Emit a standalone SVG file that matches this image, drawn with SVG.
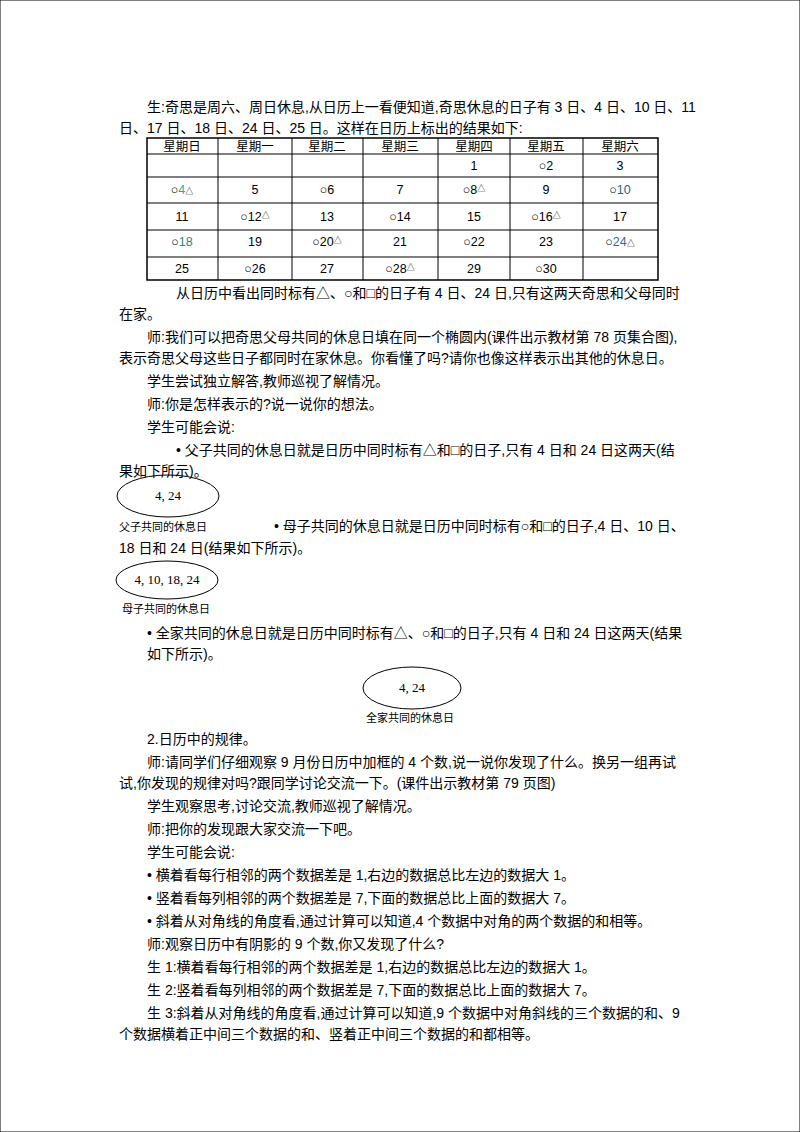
<svg xmlns="http://www.w3.org/2000/svg" width="800" height="1132" viewBox="0 0 800 1132">
<style>
text{font-family:"Liberation Sans","Noto Sans CJK SC",sans-serif;font-size:14px;fill:#000}
.c{text-anchor:middle;font-size:12.5px}
.s{font-family:"Noto Sans CJK SC",serif;font-size:11px}
.e{font-family:"Liberation Serif",serif;font-size:13px;text-anchor:middle}
line,rect,ellipse{stroke:#000;fill:none}
</style>
<rect width="800" height="1132" fill="#fff" stroke="none"/>
<text x="147" y="112">生:奇思是周六、周日休息,从日历上一看便知道,奇思休息的日子有 3 日、4 日、10 日、11</text>
<text x="119" y="133">日、17 日、18 日、24 日、25 日。这样在日历上标出的结果如下:</text>
<g id="table">
<rect x="147" y="138" width="511" height="142" stroke-width="1.5"/>
<g stroke-width="1">
<line x1="147" y1="154" x2="658" y2="154"/><line x1="147" y1="177" x2="658" y2="177"/><line x1="147" y1="203" x2="658" y2="203"/><line x1="147" y1="230" x2="658" y2="230"/><line x1="147" y1="257" x2="658" y2="257"/>
<line x1="218" y1="138" x2="218" y2="280"/><line x1="292" y1="138" x2="292" y2="280"/><line x1="363" y1="138" x2="363" y2="280"/><line x1="438" y1="138" x2="438" y2="280"/><line x1="510" y1="138" x2="510" y2="280"/><line x1="583" y1="138" x2="583" y2="280"/>
</g>
<g class="hd">
<text class="c" x="182" y="151">星期日</text><text class="c" x="255" y="151">星期一</text><text class="c" x="327" y="151">星期二</text><text class="c" x="400" y="151">星期三</text><text class="c" x="474" y="151">星期四</text><text class="c" x="546" y="151">星期五</text><text class="c" x="620" y="151">星期六</text>
</g>
<text class="c" x="474" y="170">1</text><text class="c" x="546" y="170">○2</text><text class="c" x="620" y="170" fill="#a07020">3</text>
<text class="c" x="182" y="194">○<tspan fill="#3a8">4</tspan><tspan font-size="8">△</tspan></text><text class="c" x="255" y="194">5</text><text class="c" x="327" y="194">○6</text><text class="c" x="400" y="194">7</text><text class="c" x="474" y="194">○8<tspan font-size="8" dy="-3">△</tspan></text><text class="c" x="546" y="194">9</text><text class="c" x="620" y="194">○<tspan fill="#268">10</tspan></text>
<text class="c" x="182" y="221" fill="#6a4">11</text><text class="c" x="255" y="221">○12<tspan font-size="8" dy="-3">△</tspan></text><text class="c" x="327" y="221">13</text><text class="c" x="400" y="221">○14</text><text class="c" x="474" y="221">15</text><text class="c" x="546" y="221">○16<tspan font-size="8" dy="-3">△</tspan></text><text class="c" x="620" y="221" fill="#584">17</text>
<text class="c" x="182" y="246">○<tspan fill="#288">18</tspan></text><text class="c" x="255" y="246">19</text><text class="c" x="327" y="246">○20<tspan font-size="8" dy="-3">△</tspan></text><text class="c" x="400" y="246">21</text><text class="c" x="474" y="246">○22</text><text class="c" x="546" y="246">23</text><text class="c" x="620" y="246">○<tspan fill="#468">24</tspan><tspan font-size="8">△</tspan></text>
<text class="c" x="182" y="273" fill="#684">25</text><text class="c" x="255" y="273">○26</text><text class="c" x="327" y="273">27</text><text class="c" x="400" y="273">○28<tspan font-size="8" dy="-3">△</tspan></text><text class="c" x="474" y="273">29</text><text class="c" x="546" y="273">○30</text>
</g>
<text x="176" y="298">从日历中看出同时标有△、○和□的日子有 4 日、24 日,只有这两天奇思和父母同时</text>
<text x="119" y="319">在家。</text>
<text x="147" y="342">师:我们可以把奇思父母共同的休息日填在同一个椭圆内(课件出示教材第 78 页集合图),</text>
<text x="119" y="363">表示奇思父母这些日子都同时在家休息。你看懂了吗?请你也像这样表示出其他的休息日。</text>
<text x="147" y="386">学生尝试独立解答,教师巡视了解情况。</text>
<text x="147" y="409">师:你是怎样表示的?说一说你的想法。</text>
<text x="147" y="432">学生可能会说:</text>
<text x="176" y="455">• 父子共同的休息日就是日历中同时标有△和□的日子,只有 4 日和 24 日这两天(结</text>
<text x="119" y="476">果如下所示)。</text>
<g id="e1"><ellipse cx="168" cy="496" rx="51" ry="21"/><text class="e" x="168" y="500">4, 24</text><text class="s" x="119" y="531">父子共同的休息日</text></g>
<text x="274" y="531">• 母子共同的休息日就是日历中同时标有○和□的日子,4 日、10 日、</text>
<text x="119" y="553">18 日和 24 日(结果如下所示)。</text>
<g id="e2"><ellipse cx="167" cy="580" rx="51" ry="19"/><text class="e" x="167" y="584">4, 10, 18, 24</text><text class="s" x="122" y="613">母子共同的休息日</text></g>
<text x="147" y="638">• 全家共同的休息日就是日历中同时标有△、○和□的日子,只有 4 日和 24 日这两天(结果</text>
<text x="147" y="659">如下所示)。</text>
<g id="e3"><ellipse cx="412" cy="688" rx="49" ry="21"/><text class="e" x="412" y="692">4, 24</text><text class="s" x="366" y="722">全家共同的休息日</text></g>
<text x="147" y="744">2.日历中的规律。</text>
<text x="147" y="767">师:请同学们仔细观察 9 月份日历中加框的 4 个数,说一说你发现了什么。换另一组再试</text>
<text x="119" y="788">试,你发现的规律对吗?跟同学讨论交流一下。(课件出示教材第 79 页图)</text>
<text x="147" y="811">学生观察思考,讨论交流,教师巡视了解情况。</text>
<text x="147" y="834">师:把你的发现跟大家交流一下吧。</text>
<text x="147" y="857">学生可能会说:</text>
<text x="147" y="880">• 横着看每行相邻的两个数据差是 1,右边的数据总比左边的数据大 1。</text>
<text x="147" y="903">• 竖着看每列相邻的两个数据差是 7,下面的数据总比上面的数据大 7。</text>
<text x="147" y="926">• 斜着从对角线的角度看,通过计算可以知道,4 个数据中对角的两个数据的和相等。</text>
<text x="147" y="949">师:观察日历中有阴影的 9 个数,你又发现了什么?</text>
<text x="147" y="972">生 1:横着看每行相邻的两个数据差是 1,右边的数据总比左边的数据大 1。</text>
<text x="147" y="995">生 2:竖着看每列相邻的两个数据差是 7,下面的数据总比上面的数据大 7。</text>
<text x="147" y="1018">生 3:斜着从对角线的角度看,通过计算可以知道,9 个数据中对角斜线的三个数据的和、9</text>
<text x="119" y="1039">个数据横着正中间三个数据的和、竖着正中间三个数据的和都相等。</text>
</svg>
